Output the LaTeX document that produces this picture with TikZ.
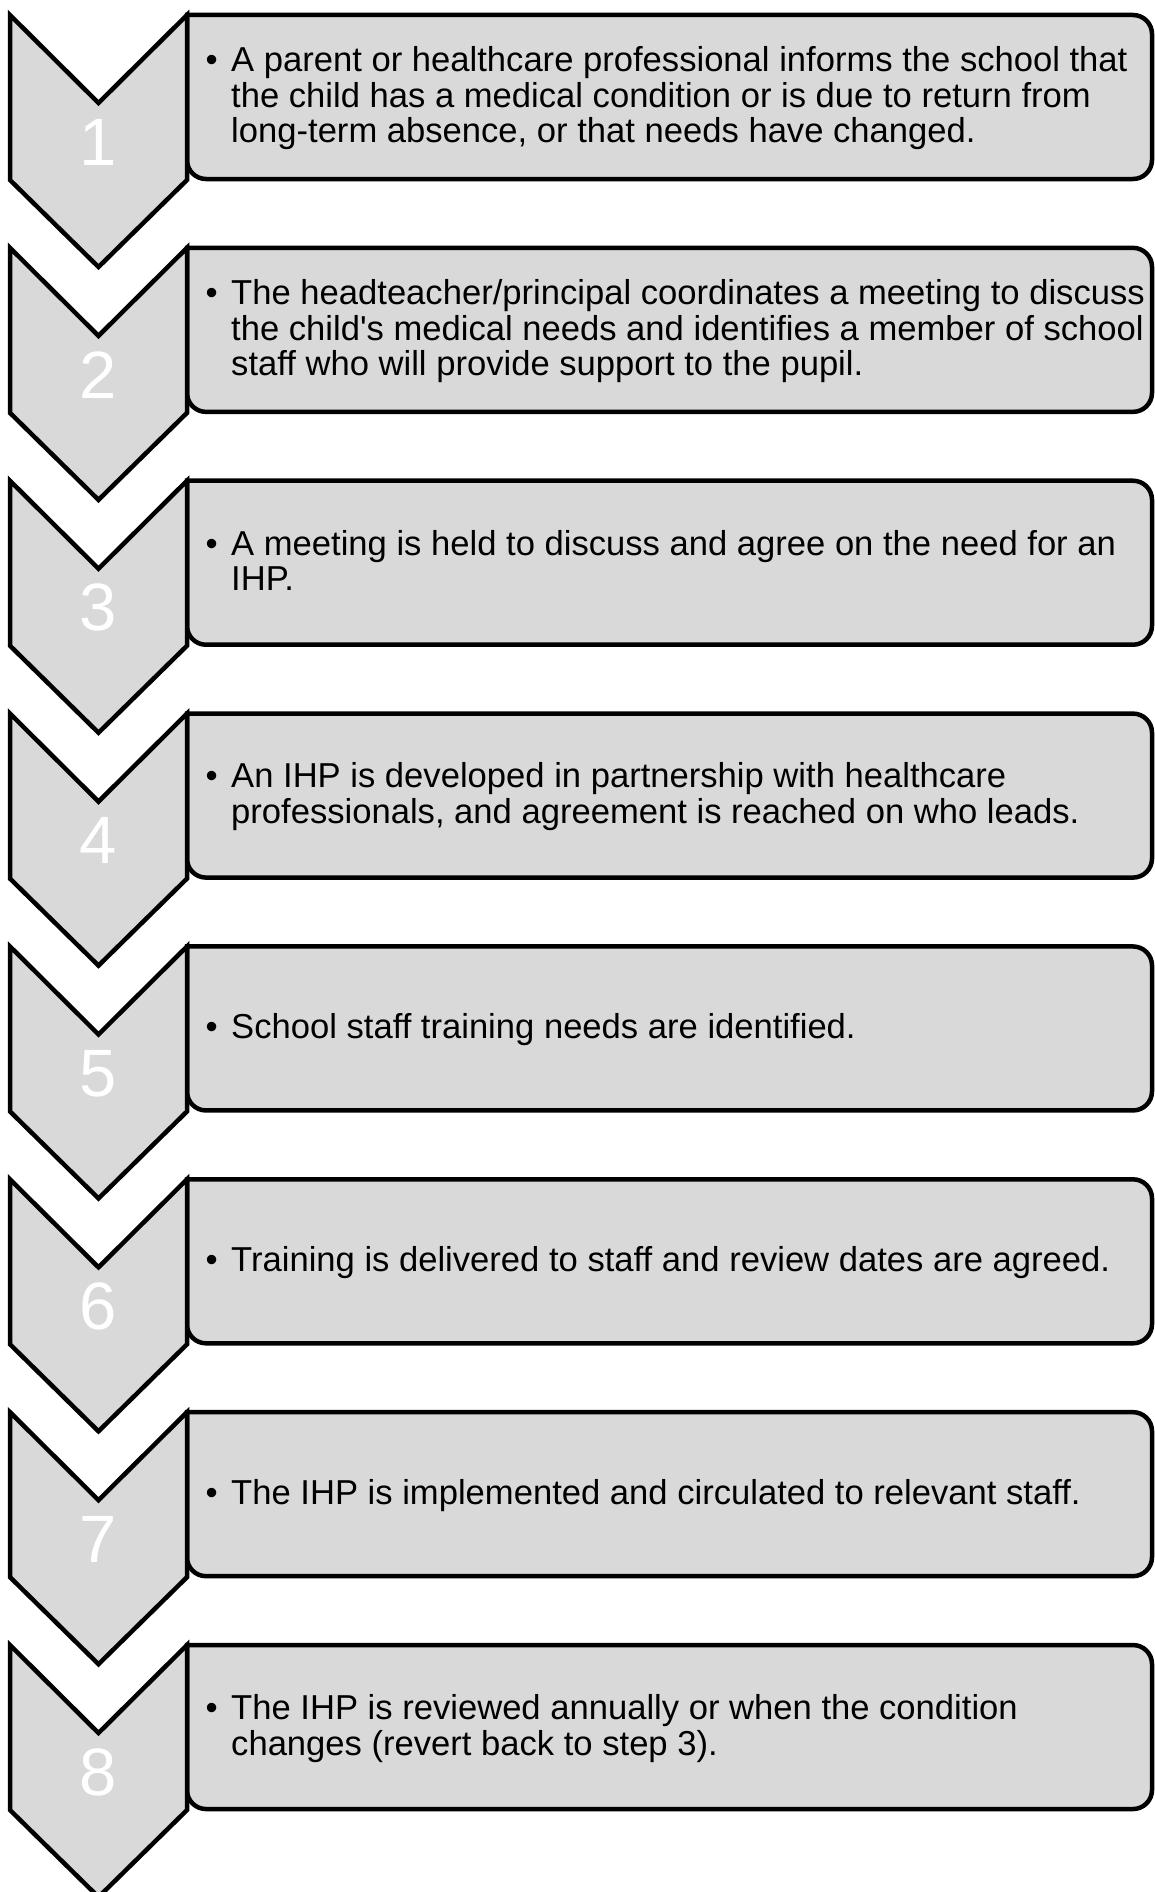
\documentclass[tikz,border=0pt]{standalone}
\usepackage{fontspec}
\setmainfont{Liberation Sans}
\definecolor{fillgray}{HTML}{D9D9D9}
\begin{document}
\begin{tikzpicture}[x=1pt,y=-1pt,
  shapeline/.style={draw=black,fill=fillgray,line width=4.5pt,line join=miter},
  numtext/.style={text=white,inner sep=0pt,font=\fontsize{67}{70}\selectfont},
  bodytext/.style={anchor=west,inner sep=0pt,align=left,font=\fontsize{34.6}{35.5}\selectfont}]
\useasboundingbox (0,0) rectangle (1155,1892);
\newcommand{\stepitem}[3]{%
  \pgfmathsetmacro{\ty}{15+(#1-1)*232.86}
  % box
  \path[shapeline,rounded corners=19pt] (187,\ty) -- (1152,\ty) -- (1152,\ty+164) -- (187,\ty+164) [sharp corners] -- cycle;
  % chevron
  \path[shapeline] (10,\ty) -- (98.5,\ty+88) -- (187,\ty) -- (187,\ty+165) -- (98.5,\ty+252) -- (10,\ty+165) -- cycle;
  \node[numtext] (num#1) at (98.5,\ty+127) {#1};
  \node[bodytext] (txt#1) at (205.5,\ty+85) {\begin{tabular}{@{}l@{\hspace{13.4pt}}l@{}}\textbullet & #2\end{tabular}};
  \coordinate (c#1) at (98.5,\ty);
}
\stepitem{1}{A parent or healthcare professional informs the school that\\ & the child has a medical condition or is due to return from\\ & long-term absence, or that needs have changed.}{}
\stepitem{2}{The headteacher/principal coordinates a meeting to discuss\\ & the child\textquotesingle s medical needs and identifies a member of school\\ & staff who will provide support to the pupil.}{}
\stepitem{3}{A meeting is held to discuss and agree on the need for an\\ & IHP.}{}
\stepitem{4}{An IHP is developed in partnership with healthcare\\ & professionals, and agreement is reached on who leads.}{}
\stepitem{5}{School staff training needs are identified.}{}
\stepitem{6}{Training is delivered to staff and review dates are agreed.}{}
\stepitem{7}{The IHP is implemented and circulated to relevant staff.}{}
\stepitem{8}{The IHP is reviewed annually or when the condition\\ & changes (revert back to step 3).}{}
\end{tikzpicture}
\end{document}
